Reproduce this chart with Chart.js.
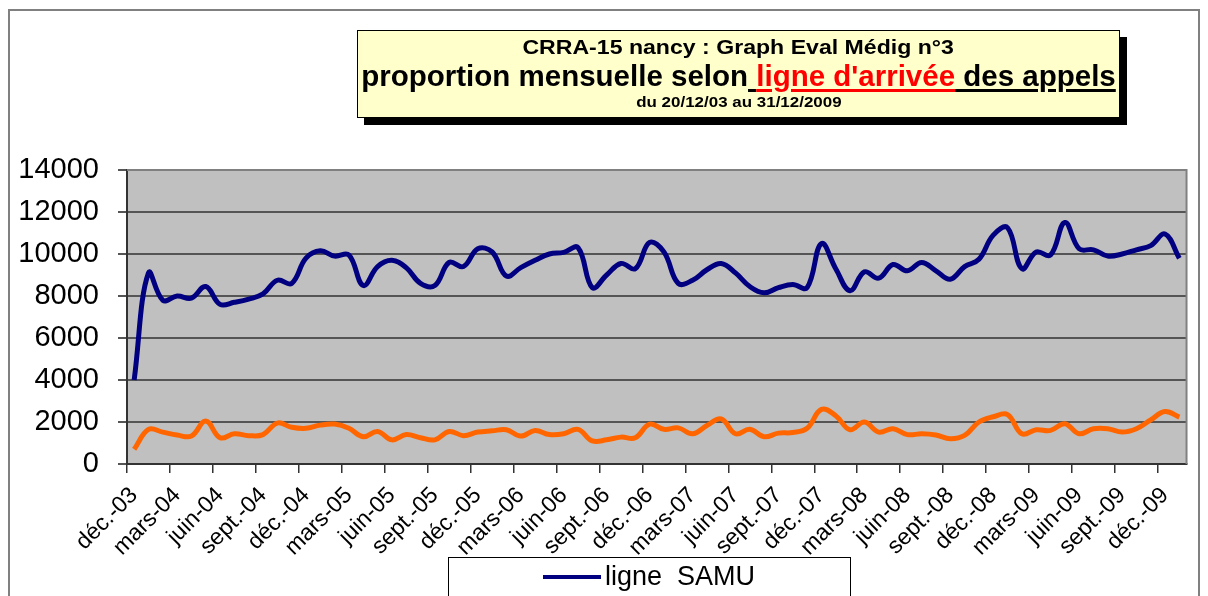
<!DOCTYPE html>
<html>
<head>
<meta charset="utf-8">
<script src="https://cdn.jsdelivr.net/npm/chart.js@4.4.1/dist/chart.umd.min.js"></script>
<style>
    body { margin: 0; background: #fff; }
    #wrap { position: relative; width: 1208px; height: 596px; overflow: hidden; }
    #titre {
        position: absolute; left: 357px; top: 30px; width: 761px; height: 86px;
        background: #ffffcc; border: 1px solid #000; box-shadow: 7px 7px 0 #000;
        font-family: 'Liberation Sans', Arial, sans-serif;
        font-weight: bold; text-align: center; color: #000; white-space: nowrap;
    }
    #titre div span.t { display: inline-block; transform-origin: 50% 50%; }
    #titre .l1 { font-size: 21px; line-height: 24px; margin-top: 4px; }
    #titre .l1 span.t { transform: scaleX(1.1); }
    #titre .l2 { font-size: 29.5px; line-height: 33px; }
    #titre .l3 { font-size: 15px; line-height: 20px; }
    #titre .l3 span.t { transform: scaleX(1.13); }
    .u { text-decoration: underline; text-decoration-thickness: 3px; text-underline-offset: 3px; }
    .rouge { color: #ff0000; }
</style>
</head>
<body>
<div id="wrap">
    <canvas id="graphe" width="1208" height="596"></canvas>
    <div id="titre">
        <div class="l1"><span class="t">CRRA-15 nancy : Graph Eval Médig n°3</span></div>
        <div class="l2"><span class="t">proportion mensuelle selon<span class="u"> </span><span class="u rouge">ligne d'arrivée</span><span class="u"> des appels</span></span></div>
        <div class="l3"><span class="t">du 20/12/03 au 31/12/2009</span></div>
    </div>
</div>
<script>
// Mois (déc.-03 -> janv.-10)
var moisNoms = ['janv.', 'févr.', 'mars', 'avr.', 'mai', 'juin', 'juil.', 'août', 'sept.', 'oct.', 'nov.', 'déc.'];
var debutMois = 11, debutAnnee = 3, nbMois = 74;

var ligneSamu = [
    4000, 9100, 7800, 8000, 7900, 8450, 7600, 7700, 7850, 8100, 8750, 8600,
    9800, 10150, 9900, 9950, 8500, 9400, 9700, 9350, 8600, 8500, 9600, 9400,
    10250, 10100, 8950, 9350, 9700, 10000, 10080, 10300, 8400, 9000, 9550, 9300,
    10550, 10100, 8600, 8750, 9250, 9550, 9100, 8450, 8150, 8400, 8550, 8400,
    10500, 9300, 8250, 9150, 8850, 9500, 9200, 9600, 9200, 8800, 9400, 9750,
    10900, 11250, 9300, 10100, 9950, 11500, 10250, 10200, 9900, 10000, 10200, 10400,
    10950, 9800
];
var autreLigne = [
    700, 1650, 1520, 1380, 1330, 2050, 1250, 1440, 1350, 1400, 1950, 1750,
    1700, 1850, 1900, 1700, 1300, 1550, 1150, 1400, 1250, 1150, 1550, 1350,
    1520, 1580, 1630, 1330, 1600, 1400, 1440, 1650, 1100, 1150, 1280, 1250,
    1900, 1650, 1720, 1440, 1830, 2150, 1440, 1650, 1300, 1470, 1500, 1700,
    2600, 2300, 1630, 2000, 1520, 1680, 1400, 1440, 1380, 1200, 1360, 2000,
    2250, 2350, 1440, 1630, 1600, 1920, 1440, 1680, 1680, 1520, 1680, 2100,
    2500, 2230
];
var yTicks = [0, 2000, 4000, 6000, 8000, 10000, 12000, 14000];

var labels = [];
for (var i = 0; i < nbMois; i++) {
    var m = (debutMois + i) % 12;
    var a = debutAnnee + Math.floor((debutMois + i) / 12);
    labels.push(moisNoms[m] + '-' + (a < 10 ? '0' + a : a));
}

var police = "'Liberation Sans', Arial, sans-serif";

// fond gris de la zone de tracé + cadre extérieur + légende
var decor = {
    id: 'decor',
    beforeDraw: function (chart) {
        var c = chart.ctx, z = chart.chartArea;
        c.save();
        c.fillStyle = '#fff';
        c.fillRect(0, 0, chart.width, chart.height);
        c.strokeStyle = '#808080';
        c.lineWidth = 2;
        c.strokeRect(9, 10, 1190, 600);
        c.fillStyle = '#c0c0c0';
        c.fillRect(z.left, z.top, z.right - z.left, z.bottom - z.top);
        c.restore();
    },
    afterDatasetsDraw: function (chart) {
        var c = chart.ctx, z = chart.chartArea;
        c.save();
        c.strokeStyle = '#808080';
        c.lineWidth = 2;
        c.beginPath();
        c.moveTo(z.left, z.top);
        c.lineTo(z.right, z.top);
        c.lineTo(z.right, z.bottom);
        c.stroke();
        // légende
        var ds = chart.data.datasets[0];
        c.fillStyle = '#fff';
        c.fillRect(448, 557, 402, 50);
        c.strokeStyle = '#000';
        c.lineWidth = 1;
        c.strokeRect(448.5, 557.5, 402, 50);
        c.strokeStyle = ds.borderColor;
        c.lineWidth = 4;
        c.beginPath();
        c.moveTo(543, 577);
        c.lineTo(601, 577);
        c.stroke();
        c.fillStyle = '#000';
        c.font = '27px ' + police;
        c.textBaseline = 'middle';
        c.fillText(ds.label, 605, 578);
        c.restore();
    }
};

new Chart(document.getElementById('graphe'), {
    type: 'line',
    data: {
        labels: labels,
        datasets: [{
            label: 'ligne  SAMU',
            data: ligneSamu,
            borderColor: '#000080',
            borderWidth: 5,
            tension: 0.4,
            pointRadius: 0
        }, {
            label: 'autre ligne',
            data: autreLigne,
            borderColor: '#ff6600',
            borderWidth: 5,
            tension: 0.4,
            pointRadius: 0
        }]
    },
    options: {
        responsive: false,
        animation: false,
        layout: { padding: { left: 0, top: 170, right: 17, bottom: 0 } },
        plugins: {
            legend: { display: false },
            tooltip: { enabled: false }
        },
        scales: {
            x: {
                type: 'category',
                offset: true,
                afterFit: function (s) { s.height = 132; },
                grid: {
                    offset: true,
                    drawOnChartArea: false,
                    tickLength: 9,
                    lineWidth: 1.5,
                    color: function (ctx) { return ctx.index % 3 === 0 ? '#333' : 'rgba(0,0,0,0)'; }
                },
                border: { display: true, color: '#333', width: 2 },
                ticks: {
                    autoSkip: false,
                    minRotation: 45,
                    maxRotation: 45,
                    padding: 9,
                    color: '#000',
                    font: { family: police, size: 23 },
                    callback: function (v, i) { return i % 3 === 0 ? labels[i] : ''; }
                }
            },
            y: {
                min: yTicks[0],
                max: yTicks[yTicks.length - 1],
                afterFit: function (s) { s.width = 127; },
                afterBuildTicks: function (s) {
                    s.ticks = yTicks.map(function (v) { return { value: v }; });
                },
                grid: { color: '#555', lineWidth: 2, tickLength: 9 },
                border: { display: true, color: '#333', width: 2 },
                ticks: {
                    padding: 19,
                    color: '#000',
                    font: { family: police, size: 29 },
                    callback: function (v) { return String(v); }
                }
            }
        }
    },
    plugins: [decor]
});
</script>
</body>
</html>
